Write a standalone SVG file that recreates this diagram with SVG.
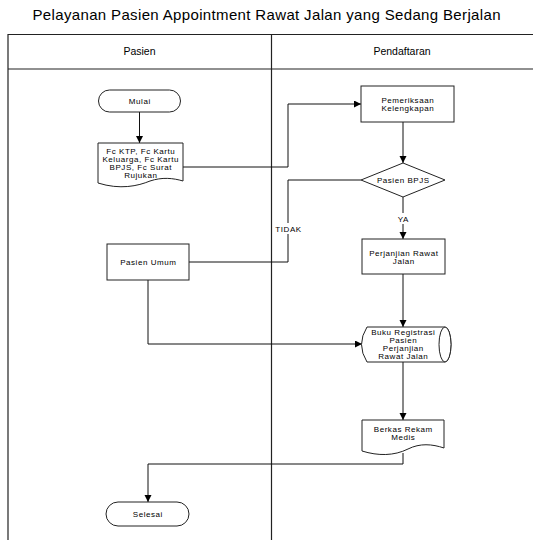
<svg xmlns="http://www.w3.org/2000/svg" width="533" height="540" viewBox="0 0 533 540">
<style>
text{font-family:"Liberation Sans",Arial,sans-serif;fill:#000;text-anchor:middle}
.title{font-size:15px}
.hdr{font-size:10.5px}
.t{font-size:8px;letter-spacing:0.55px}
.shape{fill:#fff;stroke:#222;stroke-width:1}
.lane{fill:none;stroke:#222;stroke-width:1.2}
.conn{fill:none;stroke:#111;stroke-width:1}
</style>
<defs>
<marker id="arr" markerWidth="8" markerHeight="8" refX="7" refY="3.5" orient="auto" markerUnits="userSpaceOnUse">
<path d="M0,0 L7,3.5 L0,7 Z" fill="#000"/>
</marker>
</defs>
<rect width="533" height="540" fill="#fff"/>
<text class="title" x="266.5" y="20" textLength="468" lengthAdjust="spacing">Pelayanan Pasien Appointment Rawat Jalan yang Sedang Berjalan</text>
<g id="lanes">
<path class="lane" d="M8,541 V34.5 H534 M8,69 H534 M271.5,34.5 V541"/>
<text class="hdr" x="139.5" y="55">Pasien</text>
<text class="hdr" x="402" y="55">Pendaftaran</text>
</g>
<g id="connectors">
<path class="conn" d="M139.5,112 V143" marker-end="url(#arr)"/>
<path class="conn" d="M183,167 H288 V104 H361" marker-end="url(#arr)"/>
<path class="conn" d="M403,122 V163" marker-end="url(#arr)"/>
<path class="conn" d="M403,197 V239" marker-end="url(#arr)"/>
<path class="conn" d="M361,180 H288 V262 H189"/>
<path class="conn" d="M403,274 V327" marker-end="url(#arr)"/>
<path class="conn" d="M148,280 V344 H362" marker-end="url(#arr)"/>
<path class="conn" d="M403,362 V420" marker-end="url(#arr)"/>
<path class="conn" d="M403,453 V464 H148 V502" marker-end="url(#arr)"/>
<rect x="274" y="223" width="29" height="11" fill="#fff"/>
<text class="t" x="288.5" y="231.5">TIDAK</text>
<rect x="395" y="213" width="16" height="11" fill="#fff"/>
<text class="t" x="403.3" y="221.5">YA</text>
</g>
<g id="mulai">
<rect class="shape" x="98.5" y="90" width="82" height="22" rx="11"/>
<text class="t" x="139.8" y="104">Mulai</text>
</g>
<g id="dokumen">
<path class="shape" d="M98,143 H183 V181 C173,178 162,177 150,181 C138,186 120,190 98,183 Z"/>
<text class="t" x="140.8" y="153.5">Fc KTP, Fc Kartu</text>
<text class="t" x="140.8" y="161.5">Keluarga, Fc Kartu</text>
<text class="t" x="140.8" y="169.5">BPJS, Fc Surat</text>
<text class="t" x="140.8" y="177.5">Rujukan</text>
</g>
<g id="pemeriksaan">
<rect class="shape" x="361" y="86" width="93" height="36"/>
<text class="t" x="407.8" y="103">Pemeriksaan</text>
<text class="t" x="407.8" y="111">Kelengkapan</text>
</g>
<g id="pasien-bpjs">
<path class="shape" d="M403,163 L445,180 L403,197 L361,180 Z"/>
<text class="t" x="403.3" y="183">Pasien BPJS</text>
</g>
<g id="pasien-umum">
<rect class="shape" x="107" y="244" width="82" height="36"/>
<text class="t" x="148.3" y="265">Pasien Umum</text>
</g>
<g id="perjanjian">
<rect class="shape" x="362" y="239" width="83" height="35"/>
<text class="t" x="403.8" y="256">Perjanjian Rawat</text>
<text class="t" x="403.8" y="264">Jalan</text>
</g>
<g id="buku-registrasi">
<path class="shape" d="M367,327 H445 A6,17.5 0 0 1 445,362 H367 Q356,344.5 367,327 Z"/>
<ellipse class="shape" cx="445" cy="344.5" rx="6" ry="17.5" fill="none"/>
<text class="t" x="403.3" y="335">Buku Registrasi</text>
<text class="t" x="403.3" y="343">Pasien</text>
<text class="t" x="403.3" y="351">Perjanjian</text>
<text class="t" x="403.3" y="359">Rawat Jalan</text>
</g>
<g id="berkas">
<path class="shape" d="M362,420 H444 V448 C432,444 420,443 408,449 C394,456 378,456 362,451 Z"/>
<text class="t" x="403.3" y="432">Berkas Rekam</text>
<text class="t" x="403.3" y="440">Medis</text>
</g>
<g id="selesai">
<rect class="shape" x="106" y="502" width="83" height="24" rx="12"/>
<text class="t" x="147.8" y="517">Selesai</text>
</g>
</svg>
